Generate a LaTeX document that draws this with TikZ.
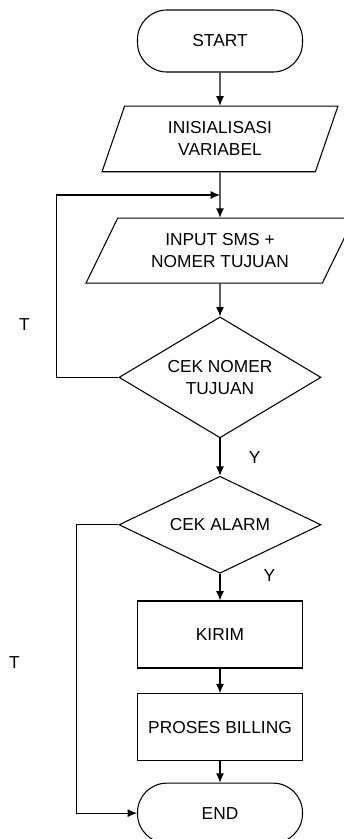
\documentclass[tikz,border=0pt]{standalone}
\usepackage{fontspec}
\setmainfont{Liberation Sans}
\usetikzlibrary{shapes.geometric,positioning,calc,arrows.meta}

\begin{document}
\begin{tikzpicture}[>={Latex[length=7pt,width=6pt]}, line width=0.8pt, font=\fontsize{13}{16.5}\selectfont]
    \tikzstyle{term} = [draw, rectangle, rounded corners=22pt, minimum width=123.75pt, minimum height=46.5pt]
    \tikzstyle{io} = [draw, trapezium, trapezium stretches body, align=center, inner xsep=0pt]
    \tikzstyle{dec} = [draw, diamond, align=center, inner sep=0pt, minimum width=151.5pt]
    \tikzstyle{proc} = [draw, rectangle, minimum width=123.75pt, minimum height=50.25pt]
    \useasboundingbox (-165pt,30.75pt) rectangle (92.25pt,-598.5pt);

    \node[term] (start) at (0,0) {START};
    \node[io, trapezium left angle=71, trapezium right angle=109, inner ysep=11.85pt, minimum width=177pt] (init) [below=24.75pt of start] {INISIALISASI\\VARIABEL};
    \node[io, trapezium left angle=64, trapezium right angle=116, inner ysep=11.5pt, minimum width=201pt] (input) [below=34pt of init] {INPUT SMS +\\NOMER TUJUAN};
    \node[dec, aspect=1.67, minimum height=90.75pt] (cekno) [below=24.5pt of input] {CEK NOMER\\TUJUAN};
    \node[dec, aspect=2.08, minimum height=72.75pt] (cekal) [below=28pt of cekno] {CEK ALARM};
    \node[proc] (kirim) [below=20pt of cekal] {KIRIM};
    \node[proc] (bill) [below=18.5pt of kirim] {PROSES BILLING};
    \node[term, minimum height=45pt] (end) [below=16pt of bill] {END};

    \draw[->] (start) -- (init);
    \draw[->] (init) -- coordinate (jn) (input);
    \draw[->] (input) -- (cekno);
    \draw[->] (cekno) -- node[right=18pt] {Y} (cekal);
    \draw[->] (cekal) -- node[pos=0.08, right=29pt] {Y} (kirim);
    \draw[->] (kirim) -- (bill);
    \draw[->] (bill) -- (end);

    \draw[->] (cekno.west) -- ++(-46.5pt,0) |- (jn);
    \draw[->] (cekal.west) -- ++(-31.5pt,0) |- (end.west);

    \node (t1) at ($(cekno.west)+(-70.5pt,39.75pt)$) {T};
    \node (t2) at ($(cekal.west)+(-78pt,-103.5pt)$) {T};
\end{tikzpicture}
\end{document}
